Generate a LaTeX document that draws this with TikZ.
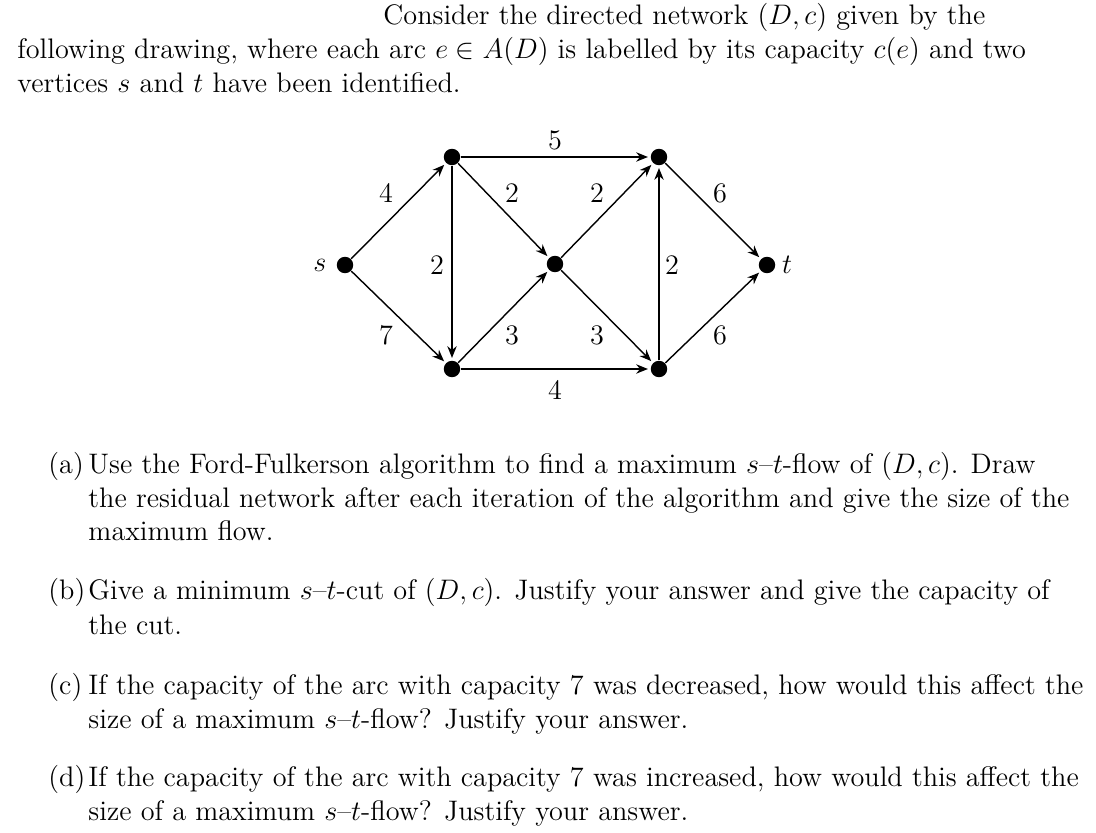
\documentclass[tikz,border=0pt]{standalone}
\usetikzlibrary{arrows.meta}
\begin{document}
\begin{tikzpicture}[x=0.425pt,y=-0.425pt,
  v/.style={circle,fill=black,inner sep=0pt,minimum size=7pt},
  arc/.style={-{Stealth[length=5pt,width=4pt]},line width=0.6pt,shorten >=1pt},
  lab/.style={font=\fontsize{12}{14.45}\selectfont},
  para/.style={anchor=base west,inner sep=0pt,font=\fontsize{12}{14.45}\selectfont}]
\useasboundingbox (0,0) rectangle (1096,833);
\node[para] (l1) at (383,25) {Consider the directed network $(D,c)$ given by the};
\node[para] (l2) at (17,59) {following drawing, where each arc $e\in A(D)$ is labelled by its capacity $c(e)$ and two};
\node[para] (l3) at (17,93) {vertices $s$ and $t$ have been identified.};
\node[v] (s) at (345,265) {};
\node[v] (a) at (452,157) {};
\node[v] (b) at (452,369) {};
\node[v] (m) at (555,264) {};
\node[v] (c) at (659,157) {};
\node[v] (d) at (659,369) {};
\node[v] (t) at (767,265) {};
\draw[arc] (s)--(a); \draw[arc] (s)--(b); \draw[arc] (a)--(b);
\draw[arc] (a)--(c); \draw[arc] (a)--(m); \draw[arc] (b)--(m);
\draw[arc] (b)--(d); \draw[arc] (m)--(c); \draw[arc] (m)--(d);
\draw[arc] (d)--(c); \draw[arc] (c)--(t); \draw[arc] (d)--(t);
\node[lab] (ls) at (320,265) {$s$};
\node[lab] (lt) at (787,265) {$t$};
\node[lab] (e1) at (555,140) {5};
\node[lab] (e2) at (386,193) {4};
\node[lab] (e3) at (512,193) {2};
\node[lab] (e4) at (597,193) {2};
\node[lab] (e5) at (720,193) {6};
\node[lab] (e6) at (437,265) {2};
\node[lab] (e7) at (672,265) {2};
\node[lab] (e8) at (386,335) {7};
\node[lab] (e9) at (512,335) {3};
\node[lab] (e10) at (597,335) {3};
\node[lab] (e11) at (720,335) {6};
\node[lab] (e12) at (555,390) {4};
\node[para] (qa) at (48,474) {(a)};
\node[para] (ta1) at (88,474) {Use the Ford-Fulkerson algorithm to find a maximum $s$--$t$-flow of $(D,c)$. Draw};
\node[para] (ta2) at (88,508) {the residual network after each iteration of the algorithm and give the size of the};
\node[para] (ta3) at (88,541) {maximum flow.};
\node[para] (qb) at (48,600) {(b)};
\node[para] (tb1) at (88,600) {Give a minimum $s$--$t$-cut of $(D,c)$. Justify your answer and give the capacity of};
\node[para] (tb2) at (88,634) {the cut.};
\node[para] (qc) at (48,694) {(c)};
\node[para] (tc1) at (88,694) {If the capacity of the arc with capacity 7 was decreased, how would this affect the};
\node[para] (tc2) at (88,728) {size of a maximum $s$--$t$-flow? Justify your answer.};
\node[para] (qd) at (48,786) {(d)};
\node[para] (td1) at (88,786) {If the capacity of the arc with capacity 7 was increased, how would this affect the};
\node[para] (td2) at (88,820) {size of a maximum $s$--$t$-flow? Justify your answer.};
\end{tikzpicture}
\end{document}
